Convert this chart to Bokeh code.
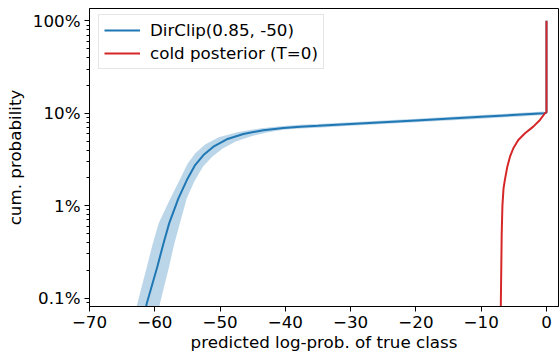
from bokeh.plotting import figure
from bokeh.models import Range1d, FixedTicker, CustomJSTickFormatter
from bokeh.embed import file_html
from bokeh.resources import INLINE

# DirClip(0.85, -50): median curve (x = predicted log-prob of true class, y = cumulative probability)
blue_x = [-61.5, -61.22, -59.6, -58.67, -57.80, -56.38, -55.09, -53.82, -52.55, -51.02, -48.97,
          -46.43, -43.36, -40.30, -37.74, -35.0, -30.0, -20.0, -10.0, -0.4, 0.0, 0.0]
blue_y = [0.0007, 0.00088, 0.0022, 0.0039, 0.00643, 0.0120, 0.0189, 0.0275, 0.0353, 0.0435, 0.0523,
          0.0597, 0.0655, 0.0693, 0.0716, 0.0732, 0.0765, 0.0835, 0.0915, 0.1000, 0.1010, 1.0]

# uncertainty band: upper-left edge and lower-right edge
band_upper_x = [-62.9, -62.66, -61.2, -60.3, -59.4, -57.6, -56.2, -55.0, -53.8, -52.3, -50.2, -47.2,
                -43.7, -40.3, -37.7, -35.0, -30.0, -20.0, -10.0, -0.4]
band_upper_y = [0.0007, 0.00088, 0.0022, 0.0039, 0.00643, 0.0120, 0.0189, 0.0282, 0.0368, 0.0460, 0.0550,
                0.0625, 0.0688, 0.0726, 0.0750, 0.0767, 0.0800, 0.0873, 0.0957, 0.1045]
band_lower_x = [-59.4, -59.2, -57.8, -57.0, -56.15, -55.1, -53.9, -52.6, -51.2, -49.6, -47.6, -45.2,
                -42.6, -40.3, -37.7, -35.0, -30.0, -20.0, -10.0, -0.4]
band_lower_y = [0.0007, 0.00088, 0.0022, 0.0039, 0.00643, 0.0120, 0.0185, 0.0265, 0.0338, 0.0415, 0.0495,
                0.0565, 0.0622, 0.0661, 0.0683, 0.0698, 0.0731, 0.0798, 0.0873, 0.0955]

# cold posterior (T=0)
red_x = [-7.05, -7.0, -6.93, -6.86, -6.75, -6.58, -6.38, -6.0, -5.59, -5.08, -4.32, -3.29, -2.02,
         -1.0, -0.23, 0.0, 0.0]
red_y = [0.0007, 0.0008, 0.002, 0.005, 0.010, 0.0154, 0.0189, 0.0264, 0.0339, 0.0418, 0.0514, 0.0607,
         0.0716, 0.0846, 0.1000, 0.1030, 1.0]

x_ticks = [-70, -60, -50, -40, -30, -20, -10, 0]
y_ticks = [0.001, 0.01, 0.1, 1.0]
y_minor = [m * d for d in [0.0001, 0.001, 0.01, 0.1, 1.0] for m in [2, 3, 4, 5, 6, 7, 8, 9]]

FONT = "DejaVu Sans"
FS = "16.7px"

p = figure(width=560, height=355, x_range=Range1d(-70, 1.84), y_range=Range1d(0.00081, 1.36),
           y_axis_type="log", output_backend="svg", toolbar_location=None,
           min_border_left=89, min_border_right=2, min_border_top=8, min_border_bottom=49)
p.grid.visible = False
p.outline_line_color = "black"
p.outline_line_alpha = 1
p.outline_line_width = 1
p.background_fill_color = "white"
p.border_fill_color = "white"

band_x = band_upper_x + band_lower_x[::-1]
band_y = band_upper_y + band_lower_y[::-1]
p.patch(band_x, band_y, fill_color="#1f77b4", fill_alpha=0.3, line_width=0, line_alpha=0)

p.line(blue_x, blue_y, line_color="#1f77b4", line_width=2, legend_label="DirClip(0.85, -50)")
p.line(red_x, red_y, line_color="#d62728", line_width=2, legend_label="cold posterior (T=0)")

for ax in (p.xaxis[0], p.yaxis[0]):
    ax.axis_line_color = "black"
    ax.axis_line_width = 1
    ax.major_tick_line_color = "black"
    ax.major_tick_out = 5
    ax.major_tick_in = 0
    ax.minor_tick_line_color = "black"
    ax.minor_tick_out = 3
    ax.minor_tick_in = 0
    ax.major_label_text_font = FONT
    ax.major_label_text_font_size = FS
    ax.major_label_text_color = "black"
    ax.axis_label_text_font = FONT
    ax.axis_label_text_font_size = FS
    ax.axis_label_text_font_style = "normal"
    ax.axis_label_text_color = "black"

p.xaxis.ticker = FixedTicker(ticks=x_ticks)
p.xaxis.formatter = CustomJSTickFormatter(code="return tick < 0 ? '\\u2212' + Math.abs(tick) : String(tick);")
p.xaxis.minor_tick_line_color = None
p.xaxis.axis_label = "predicted log-prob. of true class"
p.xaxis.major_label_standoff = 4
p.xaxis.axis_label_standoff = 1

p.yaxis.ticker = FixedTicker(ticks=y_ticks, minor_ticks=y_minor)
p.yaxis.formatter = CustomJSTickFormatter(code="var v = tick*100; return (v < 1 ? v.toFixed(1) : v.toFixed(0)) + '%';")
p.yaxis.axis_label = "cum. probability"
p.yaxis.major_label_standoff = 4
p.yaxis.axis_label_standoff = 5

lg = p.legend[0]
lg.location = (9, 237)
lg.label_text_font = FONT
lg.label_text_font_size = FS
lg.label_text_color = "black"
lg.border_line_color = "#cccccc"
lg.border_line_width = 1
lg.background_fill_alpha = 0.8
lg.padding = 5
lg.spacing = 3
lg.label_height = 20
lg.glyph_height = 20
lg.glyph_width = 36
lg.label_standoff = 10
lg.margin = 0

open("out.html", "w").write(file_html(p, INLINE))
